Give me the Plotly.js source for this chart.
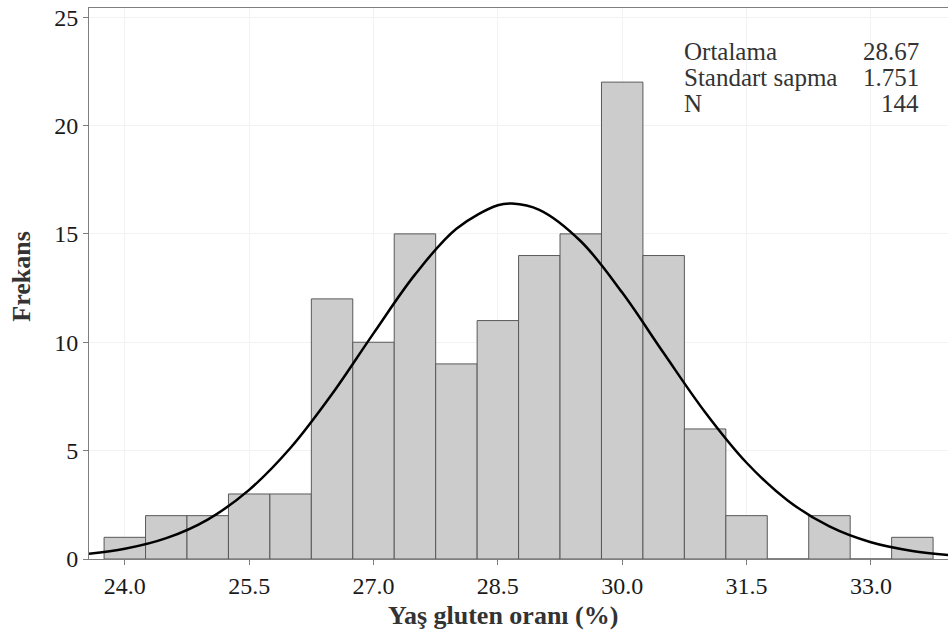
<!DOCTYPE html>
<html>
<head>
<meta charset="utf-8">
<script src="https://cdn.plot.ly/plotly-3.0.1.min.js"></script>
<style>
html,body{margin:0;padding:0;overflow:hidden;background:#fff;}
#chart{width:952px;height:634px;}
</style>
</head>
<body>
<div id="chart"></div>
<script>
// Histogram bins (centers, width 0.5) and counts
const binCenters = [24.0, 24.5, 25.0, 25.5, 26.0, 26.5, 27.0, 27.5, 28.0, 28.5, 29.0, 29.5, 30.0, 30.5, 31.0, 31.5, 32.0, 32.5, 33.0, 33.5];
const binCounts  = [1, 2, 2, 3, 3, 12, 10, 15, 9, 11, 14, 15, 22, 14, 6, 2, 0, 2, 0, 1];
const binWidth = 0.5;

// Fitted normal curve
const curveX = [23.5, 24.0, 24.5, 25.0, 25.5, 26.0, 26.5, 27.0, 27.5, 28.0, 28.5, 28.67, 29.0, 29.5, 30.0, 30.5, 31.0, 31.5, 32.0, 32.5, 33.0, 33.5, 34.0];
const curveY = [0.21, 0.47, 0.96, 1.82, 3.19, 5.13, 7.61, 10.41, 13.12, 15.24, 16.32, 16.40, 16.11, 14.66, 12.29, 9.50, 6.77, 4.44, 2.69, 1.50, 0.77, 0.37, 0.16];

// Summary stats
const statLabels = ["Ortalama", "Standart sapma", "N"];
const statValues = ["28.67", "1.751", "144"];

const xTicks = [24.0, 25.5, 27.0, 28.5, 30.0, 31.5, 33.0];
const xTickText = ["24.0", "25.5", "27.0", "28.5", "30.0", "31.5", "33.0"];
const yTicks = [0, 5, 10, 15, 20, 25];

const xTitle = "Yaş gluten oranı (%)";
const yTitle = "Frekans";

const font = "Liberation Serif, Times New Roman, serif";

const traces = [
  {
    type: "bar",
    x: binCenters,
    y: binCounts,
    width: binCenters.map(() => binWidth),
    marker: {color: "#cccccc", line: {color: "#595959", width: 1}},
    hoverinfo: "x+y"
  },
  {
    type: "scatter",
    mode: "lines",
    x: curveX,
    y: curveY,
    line: {color: "#000000", width: 2.5, shape: "spline"},
    hoverinfo: "skip"
  }
];

const rowY = [0.921, 0.874, 0.826];
const annotations = [];
statLabels.forEach((t, i) => {
  annotations.push({
    xref: "paper", yref: "paper", x: 0.6905, y: rowY[i],
    xanchor: "left", yanchor: "middle", showarrow: false,
    text: t, font: {family: font, size: 25, color: "#333333"}
  });
  annotations.push({
    xref: "paper", yref: "paper", x: 0.968, y: rowY[i],
    xanchor: "right", yanchor: "middle", showarrow: false,
    text: statValues[i], font: {family: font, size: 25, color: "#333333"}
  });
});
annotations.push({
  xref: "paper", yref: "paper", x: 0.4825, y: -0.103,
  xanchor: "center", yanchor: "middle", showarrow: false,
  text: "<b>" + xTitle + "</b>", font: {family: font, size: 26, color: "#333333"}
});
annotations.push({
  xref: "paper", yref: "paper", x: -0.079, y: 0.5127,
  xanchor: "center", yanchor: "middle", showarrow: false, textangle: -90,
  text: "<b>" + yTitle + "</b>", font: {family: font, size: 26, color: "#333333"}
});

const layout = {
  width: 952,
  height: 634,
  margin: {l: 89, r: 4, t: 8, b: 75},
  paper_bgcolor: "#ffffff",
  plot_bgcolor: "#ffffff",
  showlegend: false,
  bargap: 0,
  font: {family: font, color: "#1a1a1a", size: 24},
  xaxis: {
    range: [23.568, 33.93],
    tickvals: xTicks,
    ticktext: xTickText,
    ticks: "outside",
    ticklen: 5,
    tickcolor: "#7f7f7f",
    tickfont: {family: font, size: 24, color: "#1a1a1a"},
    showgrid: true,
    gridcolor: "#f2f2f2",
    gridwidth: 1,
    showline: true,
    linecolor: "#7f7f7f",
    linewidth: 1,
    mirror: true,
    zeroline: false
  },
  yaxis: {
    range: [0, 25.42],
    tickvals: yTicks,
    ticks: "outside",
    ticklen: 5,
    tickcolor: "#7f7f7f",
    tickfont: {family: font, size: 24, color: "#1a1a1a"},
    showgrid: true,
    gridcolor: "#f2f2f2",
    gridwidth: 1,
    showline: true,
    linecolor: "#7f7f7f",
    linewidth: 1,
    mirror: true,
    zeroline: false
  },
  annotations: annotations
};

Plotly.newPlot("chart", traces, layout, {displayModeBar: false, staticPlot: true});
</script>
</body>
</html>
